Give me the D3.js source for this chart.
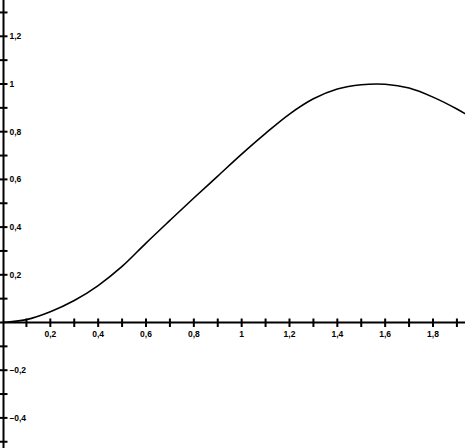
<!DOCTYPE html>
<html>

<head>
  <meta charset="utf-8" />
  <title>Curve</title>
  <style>
    body {
      margin: 0;
      background: #fff;
    }

    #svg {
      display: block;
      background: #fff;
    }

    .lbl {
      font-family: "Liberation Sans", Arial, sans-serif;
      font-weight: bold;
      font-size: 8.5px;
      fill: #000;
    }
  </style>
</head>

<body>
  <svg id="svg"></svg>

  <script src="https://d3js.org/d3.v7.min.js"></script>
  <script>
    const width = 465
    const height = 448

    // curve
    const xs = [0, 0.1, 0.2, 0.3, 0.4, 0.5, 0.6, 0.7, 0.8, 0.9, 1.0, 1.1, 1.2, 1.3, 1.4, 1.5, 1.6, 1.7, 1.8, 1.9, 2.0]
    const ys = [0, 0.012, 0.045, 0.092, 0.155, 0.235, 0.333, 0.428, 0.522, 0.614, 0.706, 0.793, 0.874, 0.938, 0.979, 0.997, 0.999, 0.983, 0.945, 0.895, 0.835]

    // ticks
    const xMinor = d3.range(1, 20).map(d => d / 10)
    const xLabels = [0.2, 0.4, 0.6, 0.8, 1, 1.2, 1.4, 1.6, 1.8]
    const yMinor = d3.range(-5, 14).filter(d => d !== 0).map(d => d / 10)
    const yLabels = [-0.4, -0.2, 0.2, 0.4, 0.6, 0.8, 1, 1.2]

    const x = d3.scaleLinear().domain([0, 1.8]).range([2.5, 433])
    const y = d3.scaleLinear().domain([0, 1]).range([322.5, 84])

    const fmt = d => String(d).replace('.', ',').replace('-', '\u2013')

    const svg = d3.select('#svg')
      .attr('width', width)
      .attr('height', height)

    // y axis
    svg.append('line')
      .attr('x1', x(0) + 1).attr('x2', x(0) + 1)
      .attr('y1', 0).attr('y2', height)
      .attr('stroke', '#000').attr('stroke-width', 2)

    svg.selectAll('.ytick')
      .data(yMinor)
      .join('line')
      .attr('class', 'ytick')
      .attr('x1', 0).attr('x2', x(0) + 5)
      .attr('y1', d => y(d)).attr('y2', d => y(d))
      .attr('stroke', '#000').attr('stroke-width', 2)

    svg.selectAll('.ylbl')
      .data(yLabels)
      .join('text')
      .attr('class', 'lbl ylbl')
      .attr('x', x(0) + 7)
      .attr('y', d => y(d) + 3)
      .text(fmt)

    // x axis
    svg.append('line')
      .attr('x1', 0).attr('x2', width)
      .attr('y1', y(0)).attr('y2', y(0))
      .attr('stroke', '#000').attr('stroke-width', 2)

    svg.selectAll('.xtick')
      .data(xMinor)
      .join('line')
      .attr('class', 'xtick')
      .attr('x1', d => x(d)).attr('x2', d => x(d))
      .attr('y1', y(0) - 4).attr('y2', y(0) + 4.5)
      .attr('stroke', '#000').attr('stroke-width', 2)

    svg.selectAll('.xlbl')
      .data(xLabels)
      .join('text')
      .attr('class', 'lbl xlbl')
      .attr('x', d => x(d))
      .attr('y', y(0) + 14)
      .attr('text-anchor', 'middle')
      .text(fmt)

    // curve
    const line = d3.line()
      .x(d => x(d))
      .y((d, i) => y(ys[i]))
      .curve(d3.curveCatmullRom)

    svg.append('path')
      .attr('d', line(xs))
      .attr('fill', 'none')
      .attr('stroke', '#000')
      .attr('stroke-width', 1.6)
  </script>
</body>

</html>
